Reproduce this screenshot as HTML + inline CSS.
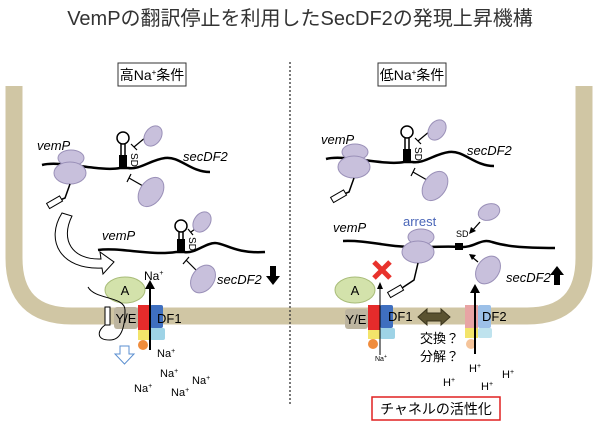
<!DOCTYPE html>
<html><head><meta charset="utf-8"><style>
html,body{margin:0;padding:0;background:#fff;}
svg{display:block;}
text{font-family:"Liberation Sans","Noto Sans CJK JP",sans-serif;}
</style></head><body>
<svg width="600" height="430" viewBox="0 0 600 430">
<defs>
<g id="top">
 <path d="M42 165 C60 160,100 172,120 168 L128 168 C140 170,150 160,165 158 C180 156,190 172,210 172" fill="none" stroke="#000" stroke-width="2.5"/>
 <line x1="121" y1="168" x2="121" y2="144" stroke="#000" stroke-width="1.5"/>
 <line x1="125" y1="168" x2="125" y2="144" stroke="#000" stroke-width="1.5"/>
 <circle cx="123" cy="138" r="6" fill="#fff" stroke="#000" stroke-width="1.5"/>
 <rect x="119" y="155" width="8" height="13" fill="#000"/>
 <text x="0" y="0" font-size="10" transform="translate(131,153) rotate(90)">SD</text>
 <line x1="134" y1="147" x2="146" y2="137" stroke="#000" stroke-width="1.2"/><line x1="131" y1="144" x2="137" y2="150" stroke="#000" stroke-width="1.2"/>
 <ellipse cx="153" cy="136" rx="8" ry="11" transform="rotate(35 153 136)" fill="#c8c0dc" stroke="#9a90b8"/>
 <line x1="129" y1="178" x2="143" y2="186" stroke="#000" stroke-width="1.2"/><line x1="127" y1="182" x2="131" y2="174" stroke="#000" stroke-width="1.2"/>
 <ellipse cx="151" cy="192" rx="11" ry="16" transform="rotate(35 151 192)" fill="#c8c0dc" stroke="#9a90b8"/>
 <ellipse cx="71" cy="158" rx="13" ry="8" fill="#c8c0dc" stroke="#9a90b8"/>
 <ellipse cx="70" cy="173" rx="16" ry="11" fill="#c8c0dc" stroke="#9a90b8"/>
 <path d="M70 184 L65 198 L60 200" fill="none" stroke="#000" stroke-width="1.5"/>
 <rect x="47" y="199" width="15" height="6" transform="rotate(-30 55 202)" fill="#fff" stroke="#000"/>
 <text x="37" y="150" font-size="13" font-style="italic">vemP</text>
 <text x="183" y="161" font-size="13" font-style="italic">secDF2</text>
</g>
</defs>
<text x="300" y="25" font-size="20" text-anchor="middle" fill="#333">VemPの翻訳停止を利用したSecDF2の発現上昇機構</text>
<!-- membrane -->
<path d="M14 86 V258 Q14 316 72 316 H527 Q584 316 584 258 V86" fill="none" stroke="#d0c6a4" stroke-width="17"/>
<line x1="290" y1="62" x2="290" y2="406" stroke="#333" stroke-width="1.3" stroke-dasharray="2,2"/>
<rect x="118" y="63" width="68" height="23" fill="#fff" stroke="#333"/>
<text x="152" y="80" font-size="14" text-anchor="middle">高Na<tspan font-size="8" dy="-5">+</tspan><tspan dy="5">条件</tspan></text>
<rect x="378" y="63" width="68" height="23" fill="#fff" stroke="#333"/>
<text x="412" y="80" font-size="14" text-anchor="middle">低Na<tspan font-size="8" dy="-5">+</tspan><tspan dy="5">条件</tspan></text>
<use href="#top"/>
<use href="#top" transform="translate(284,-6)"/>
<!-- left second mRNA -->
<path d="M98 250 C120 247,150 256,176 252 L184 252 C195 254,205 243,215 243 C225 243,235 254,265 252" fill="none" stroke="#000" stroke-width="2.5"/>
<line x1="179" y1="252" x2="179" y2="232" stroke="#000" stroke-width="1.5"/><line x1="183" y1="252" x2="183" y2="232" stroke="#000" stroke-width="1.5"/>
<circle cx="181" cy="226" r="6" fill="#fff" stroke="#000" stroke-width="1.5"/>
<rect x="177" y="239" width="8" height="13" fill="#000"/>
<text font-size="10" transform="translate(189,237) rotate(90)">SD</text>
<line x1="191" y1="232" x2="199" y2="226" stroke="#000" stroke-width="1.2"/><line x1="188" y1="229" x2="193" y2="235" stroke="#000" stroke-width="1.2"/>
<ellipse cx="202" cy="222" rx="8" ry="11" transform="rotate(35 202 222)" fill="#c8c0dc" stroke="#9a90b8"/>
<line x1="186" y1="260" x2="196" y2="270" stroke="#000" stroke-width="1.2"/><line x1="183" y1="264" x2="189" y2="257" stroke="#000" stroke-width="1.2"/>
<ellipse cx="203" cy="279" rx="11" ry="15" transform="rotate(35 203 279)" fill="#c8c0dc" stroke="#9a90b8"/>
<text x="102" y="240" font-size="13" font-style="italic">vemP</text>
<text x="217" y="284" font-size="13" font-style="italic">secDF2</text>
<path d="M270 266 h6 v10 h4 l-7 9 l-7 -9 h4z" fill="#000"/>
<!-- curved open arrow -->
<path d="M62 213 C45 240,60 270,102 268 L103 274 L114 262 L100 252 L101 259 C72 260,60 240,72 216 Z" fill="#fff" stroke="#000" stroke-width="1"/>
<!-- left channel -->
<ellipse cx="125" cy="290" rx="20" ry="13" fill="#d3e2ab" stroke="#a8bc78"/>
<text x="125" y="295" font-size="13" text-anchor="middle">A</text>
<rect x="114" y="307" width="24" height="22" rx="3" fill="#bdb5a0"/>
<text x="126" y="323" font-size="13" text-anchor="middle">Y/E</text>
<rect x="138" y="305" width="12" height="25" fill="#e52b2b"/>
<rect x="150" y="305" width="13" height="23" rx="2" fill="#3f6fbf"/>
<rect x="138" y="330" width="12" height="10" fill="#f3e46a"/>
<rect x="150" y="328" width="15" height="12" rx="2" fill="#9ed3e6"/>
<circle cx="143" cy="345" r="5" fill="#f08c3c"/>
<text x="157" y="323" font-size="13">DF1</text>
<rect x="105" y="307" width="5" height="18" fill="#fff" stroke="#000"/>
<path d="M88 287 C95 300,125 296,125 310 C125 330,120 340,110 340 C95 340,98 330,105 325" fill="none" stroke="#000" stroke-width="1"/>
<line x1="150" y1="350" x2="150" y2="288" stroke="#000" stroke-width="2"/>
<path d="M150 280 l-5 9 h10z" fill="#000"/>
<text x="144" y="280" font-size="12">Na<tspan font-size="7" dy="-5">+</tspan></text>
<path d="M120 346 h9 v8 h5 l-9.5 10 l-9.5 -10 h5z" fill="#fff" stroke="#5b8fd0"/>
<g font-size="11"><text x="157" y="357">Na<tspan font-size="7" dy="-4">+</tspan></text>
<text x="160" y="377">Na<tspan font-size="7" dy="-4">+</tspan></text>
<text x="192" y="384">Na<tspan font-size="7" dy="-4">+</tspan></text>
<text x="134" y="392">Na<tspan font-size="7" dy="-4">+</tspan></text>
<text x="171" y="396">Na<tspan font-size="7" dy="-4">+</tspan></text></g>
<!-- right mRNA -->
<path d="M343 241 C370 240,390 248,420 247 C440 247,450 246,460 247 C475 248,480 238,492 242 C505 246,520 248,555 248" fill="none" stroke="#000" stroke-width="2.5"/>
<rect x="455" y="243" width="8" height="7" fill="#000"/>
<text x="456" y="237" font-size="9">SD</text>
<text x="333" y="232" font-size="13" font-style="italic">vemP</text>
<text x="403" y="226" font-size="13" fill="#4a66b8">arrest</text>
<ellipse cx="421" cy="237" rx="13" ry="8" fill="#c8c0dc" stroke="#9a90b8"/>
<ellipse cx="418" cy="252" rx="16" ry="11" fill="#c8c0dc" stroke="#9a90b8"/>
<path d="M418 263 L414 280 L402 288" fill="none" stroke="#000" stroke-width="1.5"/>
<rect x="388" y="288" width="15" height="6" transform="rotate(-30 396 291)" fill="#fff" stroke="#000"/>
<ellipse cx="489" cy="212" rx="11" ry="8" transform="rotate(-20 489 212)" fill="#c8c0dc" stroke="#9a90b8"/>
<line x1="480" y1="222" x2="472" y2="231" stroke="#000" stroke-width="1.3"/><path d="M469 234 l2 -7 l5 4z" fill="#000"/>
<ellipse cx="488" cy="270" rx="11" ry="15" transform="rotate(35 488 270)" fill="#c8c0dc" stroke="#9a90b8"/>
<line x1="478" y1="262" x2="472" y2="257" stroke="#000" stroke-width="1.3"/><path d="M469 254 l7 1 l-4 5z" fill="#000"/>
<text x="506" y="282" font-size="13" font-style="italic">secDF2</text>
<path d="M554 285 h6 v-10 h4 l-7 -9 l-7 9 h4z" fill="#000"/>
<!-- right channel -->
<path d="M374 262 l16 16 M390 262 l-16 16" stroke="#e8322c" stroke-width="5"/>
<ellipse cx="355" cy="290" rx="20" ry="13" fill="#d3e2ab" stroke="#a8bc78"/>
<text x="355" y="295" font-size="13" text-anchor="middle">A</text>
<rect x="345" y="309" width="23" height="20" rx="3" fill="#bdb5a0"/>
<text x="356" y="324" font-size="13" text-anchor="middle">Y/E</text>
<rect x="368" y="305" width="12" height="25" fill="#e52b2b"/>
<rect x="380" y="305" width="13" height="23" rx="2" fill="#3f6fbf"/>
<rect x="368" y="330" width="12" height="9" fill="#f3e46a"/>
<rect x="380" y="328" width="15" height="11" rx="2" fill="#9ed3e6"/>
<circle cx="373" cy="344" r="5" fill="#f08c3c"/>
<text x="388" y="321" font-size="13">DF1</text>
<line x1="380" y1="355" x2="380" y2="288" stroke="#000" stroke-width="1"/>
<path d="M380 282 l-3 7 h6z" fill="#000"/>
<text x="375" y="361" font-size="7">Na<tspan font-size="5" dy="-3">+</tspan></text>
<path d="M418 317 l9 -8 v4 h14 v-4 l9 8 l-9 8 v-4 h-14 v4z" fill="#5a5230" stroke="#3a341c"/>
<rect x="465" y="305" width="13" height="23" fill="#e8a4a4"/>
<rect x="478" y="305" width="13" height="23" rx="2" fill="#9cc0e8"/>
<rect x="465" y="328" width="13" height="10" fill="#f3e46a"/>
<rect x="478" y="328" width="14" height="10" rx="2" fill="#bfe3ee"/>
<circle cx="471" cy="344" r="5" fill="#f5c49a"/>
<text x="482" y="321" font-size="13">DF2</text>
<line x1="475" y1="354" x2="475" y2="292" stroke="#000" stroke-width="2"/>
<path d="M475 284 l-5 9 h10z" fill="#000"/>
<text x="420" y="343" font-size="13">交換？</text>
<text x="420" y="361" font-size="13">分解？</text>
<g font-size="11"><text x="469" y="372">H<tspan font-size="7" dy="-4">+</tspan></text>
<text x="502" y="378">H<tspan font-size="7" dy="-4">+</tspan></text>
<text x="443" y="386">H<tspan font-size="7" dy="-4">+</tspan></text>
<text x="481" y="390">H<tspan font-size="7" dy="-4">+</tspan></text></g>
<rect x="372" y="397" width="128" height="23" fill="#fff" stroke="#e02020" stroke-width="1.5"/>
<text x="436" y="414" font-size="14" text-anchor="middle">チャネルの活性化</text>
</svg>
</body></html>
